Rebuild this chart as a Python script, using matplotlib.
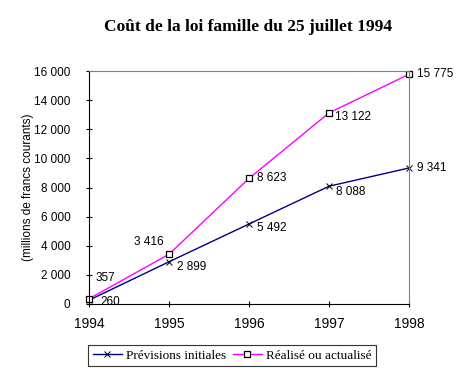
import matplotlib.pyplot as plt

years = [1994, 1995, 1996, 1997, 1998]
previsions = [260, 2899, 5492, 8088, 9341]
realise = [357, 3416, 8623, 13122, 15775]
y_ticks = [0, 2000, 4000, 6000, 8000, 10000, 12000, 14000, 16000]


def fmt(v):
    return f"{v:,}".replace(",", " ")


def main():
    fig = plt.figure(figsize=(4.67, 3.78), dpi=100)
    ax = fig.add_axes([89 / 467, 1 - 304 / 378, 320 / 467, 233 / 378])

    ax.plot(years, previsions, color="#000080", lw=1, marker="x", ms=4,
            mec="black", mew=0.7, label="Prévisions initiales", clip_on=False)
    ax.plot(years, realise, color="#FF00FF", lw=1, marker="s", ms=4.2,
            mfc="white", mec="black", mew=0.9, label="Réalisé ou actualisé",
            clip_on=False)

    lab = dict(fontsize=8.5, family="Liberation Sans")
    # label offsets (points)
    offs_p = [(8, -1), (6, -4), (6, -3), (5, -4.5), (6, 0)]
    for x, v, o in zip(years, previsions, offs_p):
        ax.annotate(fmt(v), (x, v), xytext=o, textcoords="offset points",
                    ha="left", va="center", **lab)
    offs_r = [(4.5, 15), (-4, 9), (6, 0), (4, -3), (6, 0)]
    has = ["left", "right", "left", "left", "left"]
    for x, v, o, h in zip(years, realise, offs_r, has):
        ax.annotate(fmt(v), (x, v), xytext=o, textcoords="offset points",
                    ha=h, va="center", **lab)

    ax.set_xlim(1994, 1998)
    ax.set_ylim(0, 16000)
    ax.set_xticks(years)
    ax.set_yticks(y_ticks)
    ax.set_yticklabels([fmt(t) for t in y_ticks])
    ax.tick_params(axis="y", direction="inout", length=4.5, labelsize=8.5, pad=11)
    ax.tick_params(axis="x", direction="inout", length=4.5, labelsize=10, pad=7)
    for t in ax.get_xticklabels() + ax.get_yticklabels():
        t.set_family("Liberation Sans")
    ax.spines["top"].set_color("#808080")
    ax.spines["right"].set_color("#808080")
    ax.set_ylabel("(millions de francs courants)", fontsize=8.5,
                  family="Liberation Sans", labelpad=0)

    fig.text(248 / 467, 1 - 27 / 378, "Coût de la loi famille du 25 juillet 1994",
             ha="center", va="center", fontsize=12.5, fontweight="bold",
             family="Liberation Serif")

    leg = fig.legend(loc="center", bbox_to_anchor=(232 / 467, 1 - 355.5 / 378),
                     ncol=2, prop={"family": "Liberation Serif", "size": 9.5},
                     frameon=True, fancybox=False, edgecolor="black",
                     handlelength=2.2, handletextpad=0.3, columnspacing=0.5,
                     borderpad=0.35, borderaxespad=0)
    leg.get_frame().set_linewidth(0.8)

    fig.savefig("out.png", dpi=100)


if __name__ == "__main__":
    main()
